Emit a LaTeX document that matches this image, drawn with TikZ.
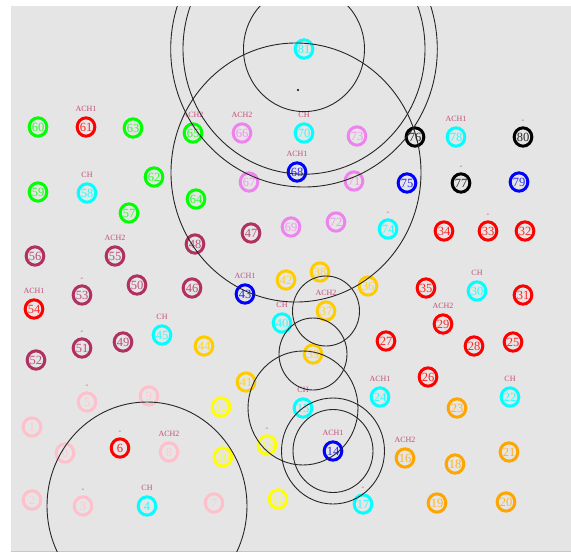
\documentclass[tikz,border=0pt]{standalone}
\usepackage{fontspec}
\usetikzlibrary{calc,shapes.geometric}
\setmainfont{Liberation Serif}
\definecolor{bgray}{RGB}{229,229,229}
\definecolor{cgreen}{RGB}{0,255,0}
\definecolor{cred}{RGB}{255,0,0}
\definecolor{ccyan}{RGB}{0,255,255}
\definecolor{cviolet}{RGB}{238,130,238}
\definecolor{cblue}{RGB}{0,0,255}
\definecolor{cblack}{RGB}{0,0,0}
\definecolor{cmaroon}{RGB}{176,48,96}
\definecolor{cgold}{RGB}{255,204,0}
\definecolor{cyellow}{RGB}{255,255,0}
\definecolor{cpink}{RGB}{255,192,203}
\definecolor{corange}{RGB}{255,165,0}
\definecolor{labcol}{RGB}{190,80,120}
\begin{document}
\begin{tikzpicture}[x=1pt,y=-1pt,
  nd/.style={ellipse,draw=#1,line width=3pt,minimum width=17.6pt,minimum height=18.3pt,
    inner sep=0pt,text=#1!85!white,font=\fontsize{12.5}{13}\selectfont},
  lab/.style={text=labcol,inner sep=0pt,font=\fontsize{8}{9}\selectfont},
  bigc/.style={draw=black!85,line width=0.9pt}]
\useasboundingbox (0,0) rectangle (571,555);
\fill[bgray] (11,6) rectangle (571,551);
\draw[black!22,line width=1.2pt] (11,551.6) -- (571,551.6);
\foreach \n/\x/\y/\c in {0/65/453/cpink,1/32/427/cpink,2/32/500/cpink,3/83/506/cpink,
  4/147/506/ccyan,5/87/402/cpink,6/120/448/cred,7/214/503/cpink,8/169/452/cpink,
  9/149/396/cpink,10/223/457/cyellow,11/278/499/cyellow,12/221/407/cyellow,
  13/267/445/cyellow,14/333/451/cblue,15/303/408/ccyan,16/405/458/corange,
  17/363/504/ccyan,18/455/464/corange,19/437/503/corange,20/506/502/corange,
  21/509/452/corange,22/510/397/ccyan,23/457/408/corange,24/380/397/ccyan,
  25/513/342/cred,26/428/377/cred,27/386/341/cred,28/474/346/cred,29/443/324/cred,
  30/477/291/ccyan,31/523/295/cred,32/525/231/cred,33/488/231/cred,34/444/231/cred,
  35/426/288/cred,36/368/286/cgold,37/326/311/cgold,38/320/272/cgold,39/313/354/cgold,
  40/282/323/ccyan,41/246/382/cgold,42/286/280/cgold,43/245/294/cblue,44/204/346/cgold,
  45/162/335/ccyan,46/192/288/cmaroon,47/251/233/cmaroon,48/195/244/cmaroon,
  49/123/342/cmaroon,50/137/285/cmaroon,51/82/348/cmaroon,52/36/360/cmaroon,
  53/82/295/cmaroon,54/34/309/cred,55/115/256/cmaroon,56/35/256/cmaroon,
  57/129/213/cgreen,58/87/193/ccyan,59/38/192/cgreen,60/38/127/cgreen,61/86/127/cred,
  62/154/177/cgreen,63/133/128/cgreen,64/196/199/cgreen,65/193/133/cgreen,
  66/242/133/cviolet,67/249/182/cviolet,68/297/172/cblue,69/291/227/cviolet,
  70/304/133/ccyan,71/354/181/cviolet,72/336/222/cviolet,73/357/136/cviolet,
  74/388/229/ccyan,75/407/183/cblue,76/415/137/cblack,77/461/183/cblack,
  78/456/137/ccyan,79/519/182/cblue,80/523/137/cblack,81/304/49/ccyan}
  {\node[nd=\c] (n\n) at (\x,\y) {\n};}
\foreach \n/\t in {61/ACH1,58/CH,65/ACH2,66/ACH2,70/CH,68/ACH1,78/ACH1,55/ACH2,
  54/ACH1,45/CH,43/ACH1,37/ACH2,40/CH,30/CH,29/ACH2,24/ACH1,22/CH,16/ACH2,
  15/CH,14/ACH1,8/ACH2,4/CH}
  {\node[lab] (l\n) at ($(n\n.center)+(0,-18.5)$) {\t};}
\foreach \n in {80,77,74,33,53,51,5,6,3,13,17}
  {\node[lab] (d\n) at ($(n\n.center)+(0,-16)$) {-};}
\begin{scope}
\clip (11,6) rectangle (571,551);
\draw[bigc] (n81.center) ellipse[x radius=60.5pt,y radius=62.6pt];
\draw[bigc] (n81.center) ellipse[x radius=121pt,y radius=125.2pt];
\draw[bigc] (n81.center) ellipse[x radius=133.3pt,y radius=138pt];
\draw[bigc] (296,172.5) ellipse[x radius=125pt,y radius=129.5pt];
\draw[bigc] (n37.center) ellipse[x radius=33.5pt,y radius=35pt];
\draw[bigc] (n39.center) ellipse[x radius=34pt,y radius=36pt];
\draw[bigc] (n15.center) ellipse[x radius=55pt,y radius=57pt];
\draw[bigc] (n14.center) ellipse[x radius=40pt,y radius=41.5pt];
\draw[bigc] (n14.center) ellipse[x radius=51.5pt,y radius=53pt];
\draw[bigc] (n4.center) ellipse[x radius=100pt,y radius=104pt];
\end{scope}
\fill[black] (298,90) circle[radius=1.2pt];
\end{tikzpicture}
\end{document}
